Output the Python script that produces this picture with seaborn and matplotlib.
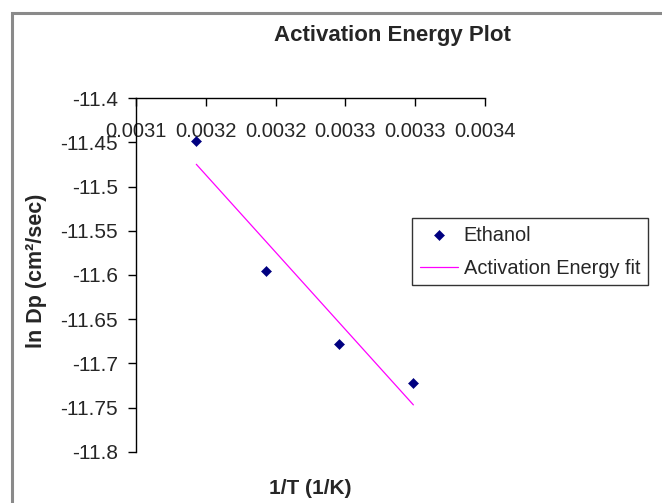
import matplotlib
matplotlib.use('Agg')
import matplotlib.pyplot as plt
import seaborn as sns
import pandas as pd
from matplotlib.patches import Rectangle
from matplotlib.ticker import FixedLocator, FixedFormatter

# dados (1/T para 45, 40, 35 e 30 C)
inv_t = [0.0031432, 0.0031934, 0.0032452, 0.0032987]
ln_dp = [-11.448, -11.596, -11.678, -11.722]
fit_x = [0.0031432, 0.0032987]
fit_y = [-11.4747, -11.747]
x_ticks = [0.0031, 0.00315, 0.0032, 0.00325, 0.0033, 0.00335]
x_labels = ['0.0031', '0.0032', '0.0032', '0.0033', '0.0033', '0.0034']
y_ticks = [-11.4, -11.45, -11.5, -11.55, -11.6, -11.65, -11.7, -11.75, -11.8]

sns.set_style("white")
plt.rcParams['font.family'] = ['Liberation Sans', 'DejaVu Sans']

W, H = 662, 503
fig = plt.figure(figsize=(W / 100, H / 100), dpi=100)

# moldura cinza do grafico (estilo Excel)
fig.patches.append(Rectangle((11.5 / W, -0.1), 1.2, (H - 13) / H + 0.1, transform=fig.transFigure,
                             fill=False, edgecolor='#8a8a8a', linewidth=2.2))

ax = fig.add_axes([136 / W, (H - 451.7) / H, (485 - 136) / W, (451.7 - 98.3) / H])

df = pd.DataFrame({'x': inv_t, 'y': ln_dp})
df_fit = pd.DataFrame({'x': fit_x, 'y': fit_y})

sns.scatterplot(x='x', y='y', data=df, ax=ax, marker='D', s=26, color='#000080',
                edgecolor='#000080', label='Ethanol', zorder=3)
sns.lineplot(x='x', y='y', data=df_fit, ax=ax, color='#ff00ff', linewidth=0.9,
             label='Activation Energy fit')

ax.set_xlim(0.0031, 0.00335)
ax.set_ylim(-11.8, -11.4)

ax.xaxis.set_major_locator(FixedLocator(x_ticks))
ax.xaxis.set_major_formatter(FixedFormatter(x_labels))
ax.set_yticks(y_ticks)
ax.set_yticklabels([f'{v:g}' for v in y_ticks])

ax.spines['right'].set_visible(False)
ax.spines['bottom'].set_visible(False)
for s in ['top', 'left']:
    ax.spines[s].set_color('black')
    ax.spines[s].set_linewidth(1)

ax.tick_params(axis='x', bottom=False, top=True, labelbottom=False, labeltop=True,
               direction='in', length=6, width=1, color='black', labelsize=14.5, pad=-31)
ax.tick_params(axis='y', left=True, direction='out', length=6, width=1, color='black',
               labelsize=15, pad=7)

ax.set_xlabel('')
ax.set_ylabel('')

fig.text(392 / W, 1 - 35 / H, 'Activation Energy Plot', ha='center', va='center',
         fontsize=16, fontweight='bold')
fig.text(310 / W, 1 - 489 / H, '1/T (1/K)', ha='center', va='center',
         fontsize=15, fontweight='bold')
fig.text(37 / W, 1 - 271 / H, 'ln Dp (cm²/sec)', ha='center', va='center',
         rotation=90, fontsize=15.5, fontweight='bold')

leg = ax.legend(loc='upper left', bbox_to_anchor=(412 / W, 1 - 218 / H),
                bbox_transform=fig.transFigure, frameon=True, fancybox=False,
                fontsize=14.4, borderpad=0.38, handlelength=1.9, handletextpad=0.3,
                labelspacing=0.7, borderaxespad=0)
leg.get_frame().set_edgecolor('black')
leg.get_frame().set_linewidth(1)

fig.savefig('out.png', dpi=100)
